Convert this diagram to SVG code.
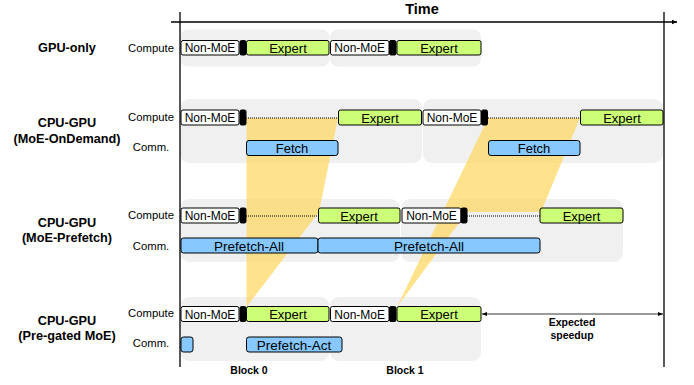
<svg xmlns="http://www.w3.org/2000/svg" width="694" height="385" viewBox="0 0 694 385">
<defs>
<style>
.bg{fill:#f0f0f0;stroke:none}
.nm{fill:#ffffff;stroke:#000;stroke-width:1}
.bk{fill:#000;stroke:#000;stroke-width:1}
.ex{fill:#ccff77;stroke:#000;stroke-width:1}
.fe{fill:#86c8ff;stroke:#000;stroke-width:1}
.y{fill:#ffd966;fill-opacity:0.75;stroke:none}
.dot{stroke:#000;stroke-width:1;stroke-dasharray:1 1;fill:none}
.ax{stroke:#000;stroke-width:1.3;fill:none}
.t{font-family:"Liberation Sans",Arial,sans-serif;fill:#000;text-anchor:middle}
.bt{font-size:12px}
.et{font-size:13px}
.pt{font-size:13.5px}
.lb{font-size:11.3px}
.rl{font-size:12.7px;font-weight:bold}
.sm{font-size:10.5px;font-weight:bold}
</style>
<marker id="ah" markerWidth="6" markerHeight="6" refX="5" refY="3" orient="auto" markerUnits="userSpaceOnUse">
<path d="M0,0.8 L5,3 L0,5.2 z" fill="#000"/>
</marker>
<marker id="ahs" markerWidth="6" markerHeight="6" refX="5" refY="3" orient="auto-start-reverse" markerUnits="userSpaceOnUse">
<path d="M0,1 L5,3 L0,5 z" fill="#000"/>
</marker>
</defs>

<!-- backgrounds -->
<g id="backgrounds">
<rect class="bg" x="180" y="29.5" width="149.5" height="37" rx="8"/>
<rect class="bg" x="330" y="29.5" width="151" height="37" rx="8"/>
<rect class="bg" x="180" y="99" width="242" height="64" rx="9"/>
<rect class="bg" x="423" y="99" width="240" height="64" rx="9"/>
<rect class="bg" x="180" y="199" width="220" height="63" rx="9"/>
<rect class="bg" x="401" y="199" width="222" height="63" rx="9"/>
<rect class="bg" x="180" y="297" width="149.5" height="64" rx="9"/>
<rect class="bg" x="330" y="297" width="151" height="64" rx="9"/>
</g>

<!-- yellow overlap bands -->
<g id="overlaps">
<polygon class="y" points="246.5,118 338,118 319,212 246.5,307"/>
<polygon class="y" points="488,118 580,118 541,212 467,212 397,307"/>
</g>

<g id="connectors">
<line class="ax" x1="171" y1="22" x2="677" y2="22" marker-end="url(#ah)"/>
<line class="ax" x1="180" y1="12" x2="180" y2="367"/>
<line class="ax" x1="664" y1="12" x2="664" y2="367"/>
<line class="dot" x1="246" y1="118" x2="338" y2="118"/>
<line class="dot" x1="488" y1="118" x2="580" y2="118"/>
<line class="dot" x1="246" y1="216" x2="318" y2="216"/>
<line class="dot" x1="467" y1="216" x2="540" y2="216"/>
<line stroke="#000" stroke-width="0.8" x1="482" y1="314" x2="663" y2="314" marker-start="url(#ahs)" marker-end="url(#ahs)"/>
</g>

<!-- row 1: GPU-only -->
<g id="gpu-only">
<rect class="nm" x="181" y="40.5" width="58" height="14.5" rx="2"/>
<rect class="bk" x="240" y="40.5" width="6" height="14.5" rx="1.5"/>
<rect class="ex" x="246.5" y="40.5" width="82.5" height="14.5" rx="2"/>
<rect class="nm" x="330.5" y="40.5" width="58.5" height="14.5" rx="2"/>
<rect class="bk" x="389.5" y="40.5" width="6.5" height="14.5" rx="1.5"/>
<rect class="ex" x="397" y="40.5" width="84" height="14.5" rx="2"/>
<text class="t bt" x="210" y="52.3">Non-MoE</text>
<text class="t et" x="288" y="52.7">Expert</text>
<text class="t bt" x="359.7" y="52.3">Non-MoE</text>
<text class="t et" x="439" y="52.7">Expert</text>
</g>

<!-- row 2: OnDemand -->
<g id="ondemand">
<rect class="nm" x="181" y="110" width="58" height="15" rx="2"/>
<rect class="bk" x="240" y="110" width="6" height="15" rx="1.5"/>
<rect class="ex" x="338.5" y="110" width="83" height="15" rx="2"/>
<rect class="nm" x="423" y="110" width="58" height="15" rx="2"/>
<rect class="bk" x="481.5" y="110" width="6" height="15" rx="1.5"/>
<rect class="ex" x="580.5" y="110" width="82.5" height="15" rx="2"/>
<rect class="fe" x="246.5" y="140.5" width="91.5" height="15" rx="2.5"/>
<rect class="fe" x="488.5" y="140.5" width="91.5" height="15" rx="2.5"/>
<text class="t bt" x="210" y="122">Non-MoE</text>
<text class="t et" x="380" y="122.5">Expert</text>
<text class="t bt" x="452" y="122">Non-MoE</text>
<text class="t et" x="622" y="122.5">Expert</text>
<text class="t et" x="292" y="153">Fetch</text>
<text class="t et" x="534" y="153">Fetch</text>
</g>

<!-- row 3: Prefetch -->
<g id="prefetch">
<rect class="nm" x="181" y="208" width="58" height="15" rx="2"/>
<rect class="bk" x="240" y="208" width="6" height="15" rx="1.5"/>
<rect class="ex" x="318.5" y="208" width="81.5" height="15" rx="2"/>
<rect class="nm" x="402" y="208" width="59" height="15" rx="2"/>
<rect class="bk" x="461" y="208" width="6" height="15" rx="1.5"/>
<rect class="ex" x="540" y="208" width="83" height="15" rx="2"/>
<rect class="fe" x="181" y="238" width="137" height="15" rx="2.5"/>
<rect class="fe" x="318" y="238" width="222" height="15" rx="2.5"/>
<text class="t bt" x="210" y="220">Non-MoE</text>
<text class="t et" x="359" y="220.5">Expert</text>
<text class="t bt" x="431.5" y="220">Non-MoE</text>
<text class="t et" x="581.5" y="220.5">Expert</text>
<text class="t pt" x="249" y="250.5">Prefetch-All</text>
<text class="t pt" x="429" y="250.5">Prefetch-All</text>
</g>

<!-- row 4: Pre-gated -->
<g id="pregated">
<rect class="nm" x="181" y="306.5" width="58" height="15" rx="2"/>
<rect class="bk" x="240" y="306.5" width="6" height="15" rx="1.5"/>
<rect class="ex" x="246.5" y="306.5" width="82.5" height="15" rx="2"/>
<rect class="nm" x="330.5" y="306.5" width="58.5" height="15" rx="2"/>
<rect class="bk" x="389.5" y="306.5" width="6.5" height="15" rx="1.5"/>
<rect class="ex" x="397" y="306.5" width="84" height="15" rx="2"/>
<rect class="fe" x="181" y="337" width="12" height="15" rx="2.5"/>
<rect class="fe" x="246.5" y="337" width="95.5" height="15" rx="2.5"/>
<text class="t bt" x="210" y="318.5">Non-MoE</text>
<text class="t et" x="288" y="319">Expert</text>
<text class="t bt" x="359.7" y="318.5">Non-MoE</text>
<text class="t et" x="439" y="319">Expert</text>
<text class="t pt" x="294" y="349.5">Prefetch-Act</text>
</g>

<!-- labels -->
<g id="labels">
<text class="t" x="422" y="14" style="font-size:14.5px;font-weight:bold">Time</text>
<text class="t rl" x="67" y="52">GPU-only</text>
<text class="t rl" x="67" y="127">CPU-GPU</text>
<text class="t rl" x="67" y="143">(MoE-OnDemand)</text>
<text class="t rl" x="67" y="227">CPU-GPU</text>
<text class="t rl" x="67" y="242">(MoE-Prefetch)</text>
<text class="t rl" x="67" y="325">CPU-GPU</text>
<text class="t rl" x="67" y="340">(Pre-gated MoE)</text>
<text class="t lb" x="151" y="52">Compute</text>
<text class="t lb" x="151" y="121">Compute</text>
<text class="t lb" x="151" y="151">Comm.</text>
<text class="t lb" x="151" y="219">Compute</text>
<text class="t lb" x="151" y="250">Comm.</text>
<text class="t lb" x="151" y="317">Compute</text>
<text class="t lb" x="151" y="347">Comm.</text>
<text class="t sm" x="249" y="374">Block 0</text>
<text class="t sm" x="405" y="374">Block 1</text>
<text class="t sm" x="572" y="326">Expected</text>
<text class="t sm" x="572" y="338.5">speedup</text>
</g>
</svg>
